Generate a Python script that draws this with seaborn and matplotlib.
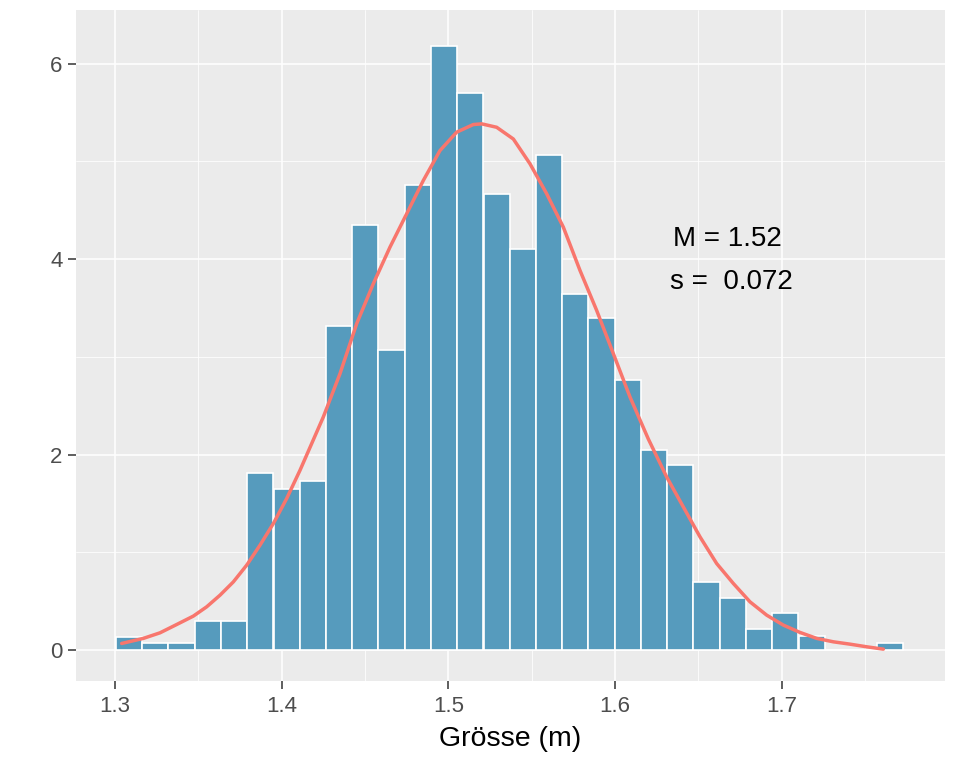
import numpy as np
import pandas as pd
import matplotlib
matplotlib.use("Agg")
import matplotlib.pyplot as plt
import seaborn as sns

# histogram heights (density), 30 bins from 1.3006 to 1.7731
bin_edges = list(np.linspace(1.3006, 1.7731, 31))
density = [0.136, 0.068, 0.068, 0.299, 0.299, 1.81, 1.646, 1.728, 3.32, 4.354,
           3.075, 4.755, 6.18, 5.70, 4.667, 4.105, 5.065, 3.64, 3.395, 2.762,
           2.048, 1.898, 0.697, 0.537, 0.218, 0.384, 0.143, 0.0, 0.0, 0.068]

# density curve
curve_x = [1.304, 1.317, 1.327, 1.337, 1.347, 1.355, 1.363, 1.371, 1.379, 1.387,
           1.395, 1.403, 1.411, 1.425, 1.435, 1.445, 1.455, 1.465, 1.475, 1.485,
           1.495, 1.505, 1.515, 1.520, 1.529, 1.539, 1.549, 1.559, 1.569, 1.579,
           1.589, 1.599, 1.609, 1.620, 1.631, 1.641, 1.651, 1.661, 1.671, 1.681,
           1.691, 1.701, 1.711, 1.721, 1.731, 1.741, 1.751, 1.761]
curve_y = [0.068, 0.12, 0.177, 0.262, 0.348, 0.443, 0.562, 0.698, 0.869, 1.074,
           1.295, 1.551, 1.84, 2.386, 2.829, 3.34, 3.75, 4.124, 4.465, 4.806,
           5.112, 5.30, 5.378, 5.385, 5.35, 5.23, 4.976, 4.67, 4.328, 3.885,
           3.476, 3.034, 2.59, 2.16, 1.772, 1.465, 1.159, 0.886, 0.682, 0.494,
           0.358, 0.256, 0.181, 0.12, 0.085, 0.061, 0.034, 0.01]

x_ticks = [1.3, 1.4, 1.5, 1.6, 1.7]
y_ticks = [0, 2, 4, 6]
stats_text = ["M = 1.52", "s =  0.072"]

sns.set_theme(style="darkgrid", rc={
    "axes.facecolor": "#EBEBEB",
    "grid.color": "white",
    "axes.edgecolor": "#EBEBEB",
})
plt.rcParams["font.family"] = ["Liberation Sans", "DejaVu Sans"]

fig, ax = plt.subplots(figsize=(9.6, 7.68), dpi=100)
fig.subplots_adjust(left=76/960, right=945/960, top=1-10/768, bottom=1-681/768)

centers = [(a + b) / 2 for a, b in zip(bin_edges[:-1], bin_edges[1:])]
hist_df = pd.DataFrame({"x": centers, "w": density})
curve_df = pd.DataFrame({"x": curve_x, "y": curve_y})

sns.histplot(data=hist_df, x="x", weights="w", bins=bin_edges, stat="count",
             color="#569BBD", edgecolor="white", linewidth=1.2, alpha=1, ax=ax)
sns.lineplot(data=curve_df, x="x", y="y", color="#F8766D", linewidth=2.5, ax=ax)

ax.text(1.6675, 4.21, stats_text[0], ha="center", va="center", fontsize=20, color="black")
ax.text(1.670, 3.77, stats_text[1], ha="center", va="center", fontsize=20, color="black")

ax.set_xlim(1.2766, 1.798)
ax.set_ylim(-0.316, 6.55)
ax.set_xticks(x_ticks)
ax.set_yticks(y_ticks)
ax.set_xticks([1.35, 1.45, 1.55, 1.65, 1.75], minor=True)
ax.set_yticks([1, 3, 5], minor=True)
ax.grid(which="major", color="white", linewidth=1.1)
ax.grid(which="minor", color="white", linewidth=0.55)
ax.tick_params(which="major", length=5.5, width=1.1, color="#333333",
               labelsize=16, labelcolor="#4D4D4D", bottom=True, left=True)
ax.tick_params(axis="x", which="major", pad=5)
ax.tick_params(axis="y", which="major", pad=4.3)
ax.tick_params(which="minor", length=0)
ax.set_xticklabels([str(v) for v in x_ticks])
ax.set_yticklabels([str(v) for v in y_ticks])
ax.set_xlabel("Grösse (m)", fontsize=20.5, color="black", labelpad=6.5)
ax.set_ylabel("")
for s in ax.spines.values():
    s.set_visible(False)
ax.set_axisbelow(True)

plt.savefig("out.png", dpi=100)
